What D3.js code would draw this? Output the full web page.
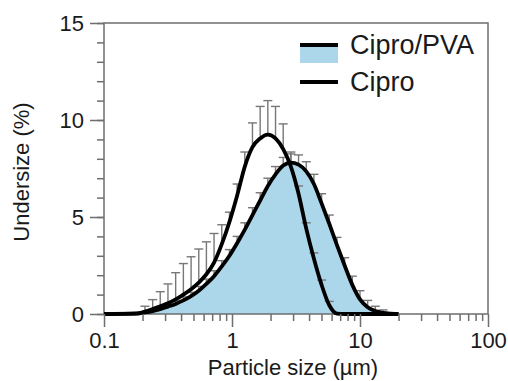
<html>
<script src='https://d3js.org/d3.v7.min.js'></script>
<style>
  body { margin: 0; background: white; }
  text { font-family: "Liberation Sans", Arial, sans-serif; fill: #1a1a1a; }
</style>
<body>
<svg width=508 height=381></svg>

<script>
// particle size bins (µm)
var sizes = [0.1, 0.182, 0.209, 0.240, 0.275, 0.316, 0.363, 0.417, 0.479, 0.550, 0.631, 0.724,
  0.832, 0.955, 1.096, 1.259, 1.445, 1.660, 1.905, 2.188, 2.512, 2.884, 3.311, 3.802,
  4.365, 5.012, 5.754, 6.607, 7.586, 8.710, 10.0, 11.48, 13.18, 15.14, 17.38, 19.95];

var cipro = [0, 0.02, 0.12, 0.25, 0.4, 0.55, 0.75, 1.0, 1.28, 1.62, 2.05, 2.65,
  3.6, 4.75, 6.1, 7.6, 8.6, 9.05, 9.25, 9.05, 8.5, 7.6, 6.2, 4.4,
  2.85, 1.5, 0.45, 0.02, 0, 0, 0, 0, 0, 0, 0, 0];
var ciproErr = [0, 0, 0.28, 0.49, 0.75, 1.0, 1.38, 1.6, 1.67, 1.73, 1.67, 1.5,
  1.0, 0.5, 0.6, 0.75, 1.25, 1.65, 1.75, 1.65, 1.3, 0.75, 0.4, 0.3,
  0.3, 0.25, 0.2, 0, 0, 0, 0, 0, 0, 0, 0, 0];

var pva = [0, 0.03, 0.08, 0.15, 0.25, 0.38, 0.52, 0.7, 0.92, 1.2, 1.55, 1.95,
  2.45, 3.0, 3.65, 4.35, 5.1, 5.85, 6.6, 7.2, 7.65, 7.8, 7.7, 7.35,
  6.7, 5.7, 4.65, 3.55, 2.5, 1.5, 0.75, 0.35, 0.15, 0.06, 0.02, 0];
var pvaErr = [0, 0, 0.05, 0.08, 0.1, 0.12, 0.15, 0.18, 0.2, 0.22, 0.25, 0.28,
  0.3, 0.32, 0.35, 0.35, 0.38, 0.4, 0.4, 0.4, 0.42, 0.45, 0.5, 0.5,
  0.5, 0.5, 0.45, 0.4, 0.4, 0.45, 0.45, 0.35, 0.25, 0.15, 0.05, 0];

var xMajor = [0.1, 1, 10, 100];
var xMajorLabels = ["0.1", "1", "10", "100"];
var yMajor = [0, 5, 10, 15];

var plotLeft = 104, plotRight = 488, plotTop = 23, plotBottom = 314;
var axisColor = "#6e6e6e";
var barColor = "#777777";
var fillColor = "#acd6ea";

var x = d3.scaleLog().domain([0.1, 100]).range([plotLeft, plotRight]);
var y = d3.scaleLinear().domain([0, 15]).range([plotBottom, plotTop]);

var svg = d3.select("svg");

// PVA filled area
var area = d3.area()
  .x(function(d, i) { return x(sizes[i]); })
  .y0(y(0))
  .y1(function(d) { return y(d); })
  .curve(d3.curveMonotoneX);

svg.append("path")
  .datum(pva)
  .attr("d", area)
  .attr("fill", fillColor);

// error bars (upper only)
function errorBars(means, errs) {
  var g = svg.append("g")
    .attr("stroke", barColor)
    .attr("stroke-width", 1.4);
  for (var i = 0; i < sizes.length; i++) {
    if (errs[i] <= 0) continue;
    var cx = x(sizes[i]);
    var y0 = y(means[i]);
    var y1 = y(means[i] + errs[i]);
    g.append("line").attr("x1", cx).attr("x2", cx).attr("y1", y0).attr("y2", y1);
    g.append("line").attr("x1", cx - 4.5).attr("x2", cx + 4.5).attr("y1", y1).attr("y2", y1);
  }
}
errorBars(cipro, ciproErr);
errorBars(pva, pvaErr);

// frame
svg.append("rect")
  .attr("x", plotLeft).attr("y", plotTop)
  .attr("width", plotRight - plotLeft).attr("height", plotBottom - plotTop)
  .attr("fill", "none")
  .attr("stroke", axisColor)
  .attr("stroke-width", 1.5);

// curves
var line = d3.line()
  .x(function(d, i) { return x(sizes[i]); })
  .y(function(d) { return y(d); })
  .curve(d3.curveMonotoneX);

svg.append("path").datum(pva).attr("d", line)
  .attr("fill", "none").attr("stroke", "black").attr("stroke-width", 3.8);
svg.append("path").datum(cipro).attr("d", line)
  .attr("fill", "none").attr("stroke", "black").attr("stroke-width", 3.8);

// axes: minor ticks then major ticks
var xMinor = [];
for (var e = 0.1; e < 100; e *= 10) {
  for (var m = 2; m <= 9; m++) xMinor.push(+(e * m).toPrecision(2));
}
var yMinor = d3.range(0, 16);

function styleAxis(g) {
  g.select(".domain").remove();
  g.selectAll("line").attr("stroke", axisColor).attr("stroke-width", 1.5);
  g.selectAll("text").style("font-size", "22px").attr("fill", "#1a1a1a");
}

svg.append("g").attr("transform", "translate(0," + plotBottom + ")")
  .call(d3.axisBottom(x).tickValues(xMinor).tickSize(7).tickFormat(""))
  .call(styleAxis);
svg.append("g").attr("transform", "translate(0," + plotBottom + ")")
  .call(d3.axisBottom(x).tickValues(xMajor).tickSize(13).tickPadding(5)
    .tickFormat(function(d, i) { return xMajorLabels[i]; }))
  .call(styleAxis);

svg.append("g").attr("transform", "translate(" + plotLeft + ",0)")
  .call(d3.axisLeft(y).tickValues(yMinor).tickSize(7).tickFormat(""))
  .call(styleAxis);
svg.append("g").attr("transform", "translate(" + plotLeft + ",0)")
  .call(d3.axisLeft(y).tickValues(yMajor).tickSize(14).tickPadding(6))
  .call(styleAxis);

// axis titles
svg.append("text")
  .attr("x", 293).attr("y", 375)
  .style("text-anchor", "middle")
  .style("font-size", "22px")
  .text("Particle size (µm)");

svg.append("text")
  .attr("transform", "translate(29,172) rotate(-90)")
  .style("text-anchor", "middle")
  .style("font-size", "22px")
  .text("Undersize (%)");

// legend
svg.append("rect")
  .attr("x", 300).attr("y", 45).attr("width", 38).attr("height", 18)
  .attr("fill", fillColor);
svg.append("line")
  .attr("x1", 300).attr("x2", 338).attr("y1", 45).attr("y2", 45)
  .attr("stroke", "black").attr("stroke-width", 4);
svg.append("text")
  .attr("x", 350).attr("y", 54)
  .style("font-size", "27px")
  .text("Cipro/PVA");

svg.append("line")
  .attr("x1", 300).attr("x2", 338).attr("y1", 82).attr("y2", 82)
  .attr("stroke", "black").attr("stroke-width", 4);
svg.append("text")
  .attr("x", 350).attr("y", 91)
  .style("font-size", "27px")
  .text("Cipro");
</script>
</body>
</html>
